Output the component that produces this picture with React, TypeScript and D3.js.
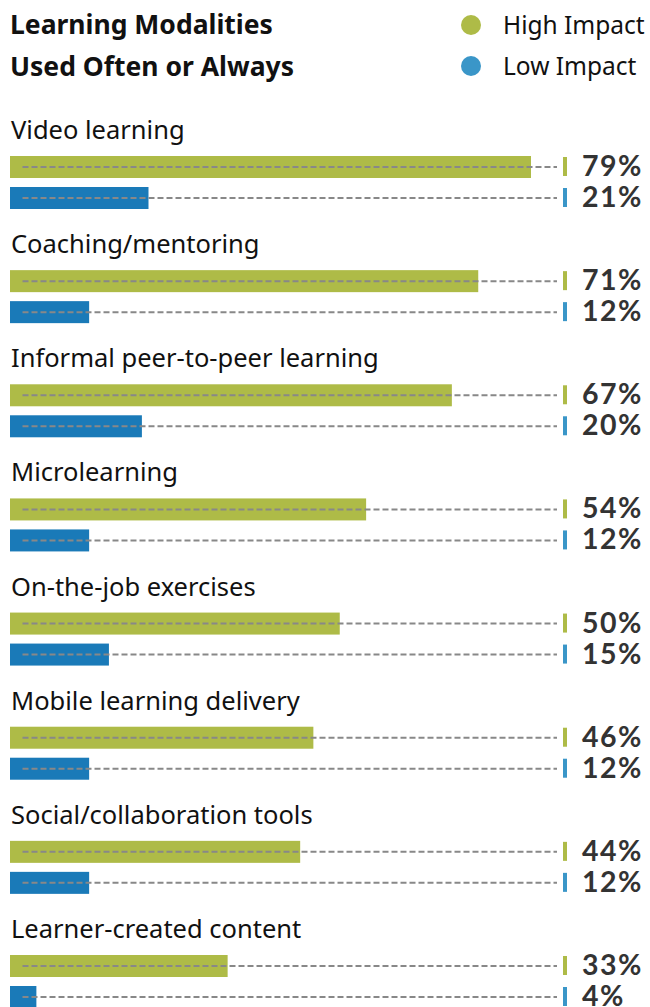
import React from "react";
import * as d3 from "d3";

const categories = [
  "Video learning",
  "Coaching/mentoring",
  "Informal peer-to-peer learning",
  "Microlearning",
  "On-the-job exercises",
  "Mobile learning delivery",
  "Social/collaboration tools",
  "Learner-created content",
];
const highImpact = [79, 71, 67, 54, 50, 46, 44, 33];
const lowImpact = [21, 12, 20, 12, 15, 12, 12, 4];
const seriesNames = ["High Impact", "Low Impact"];
const titleLines = ["Learning Modalities", "Used Often or Always"];

const W = 650;
const H = 1007;
const GREEN = "#AEBB47";
const BLUE_BAR = "#1A7AB8";
const BLUE_LIGHT = "#3A96C8";
const DASH = "#888888";

export default function App() {
  const x = d3.scaleLinear().domain([0, 79]).range([10, 531]);
  const y = d3
    .scaleLinear()
    .domain([0, categories.length - 1])
    .range([167, 966]);
  const barH = 22;
  const offset = 31;
  const lineStart = 22.5;
  const lineEnd = 557;
  const tickX = 563;
  const labelX = 582;
  const labelFont = "'Noto Sans', sans-serif";
  const pctFont = "Lato, 'Open Sans', sans-serif";

  return (
    <svg
      width={W}
      height={H}
      style={{ position: "absolute", left: 0, top: 0, background: "#fff" }}
    >
      {titleLines.map((t, i) => (
        <text
          key={t}
          x={10}
          y={34 + i * 42}
          fontFamily={labelFont}
          fontWeight={700}
          fontSize={26.5}
          fill="#111"
        >
          {t}
        </text>
      ))}
      {seriesNames.map((s, i) => (
        <g key={s}>
          <circle cx={471} cy={25 + i * 41} r={10} fill={i === 0 ? GREEN : BLUE_LIGHT} />
          <text
            x={503}
            y={34 + i * 41}
            fontFamily={labelFont}
            fontSize={24.5}
            fill="#111"
          >
            {s}
          </text>
        </g>
      ))}
      {categories.map((c, i) => {
        const cy = y(i);
        const rows = [
          { v: highImpact[i], color: GREEN, tick: GREEN, cy },
          { v: lowImpact[i], color: BLUE_BAR, tick: BLUE_LIGHT, cy: cy + offset },
        ];
        return (
          <g key={c}>
            <text
              x={11}
              y={cy - 28}
              fontFamily={labelFont}
              fontSize={25.5}
              fill="#111"
            >
              {c}
            </text>
            {rows.map((r, j) => (
              <g key={j}>
                <rect
                  x={x(0)}
                  y={r.cy - barH / 2}
                  width={x(r.v) - x(0)}
                  height={barH}
                  fill={r.color}
                />
                <line
                  x1={lineStart}
                  x2={lineEnd}
                  y1={r.cy}
                  y2={r.cy}
                  stroke={DASH}
                  strokeWidth={2}
                  strokeDasharray="6,3"
                />
                <rect
                  x={tickX}
                  y={r.cy - 10}
                  width={4}
                  height={19}
                  fill={r.tick}
                />
                <text
                  x={labelX}
                  y={r.cy + 9}
                  fontFamily={pctFont}
                  fontWeight={700}
                  fontSize={28.5}
                  letterSpacing={1.4}
                  fill="#333"
                >
                  {r.v}%
                </text>
              </g>
            ))}
          </g>
        );
      })}
    </svg>
  );
}
